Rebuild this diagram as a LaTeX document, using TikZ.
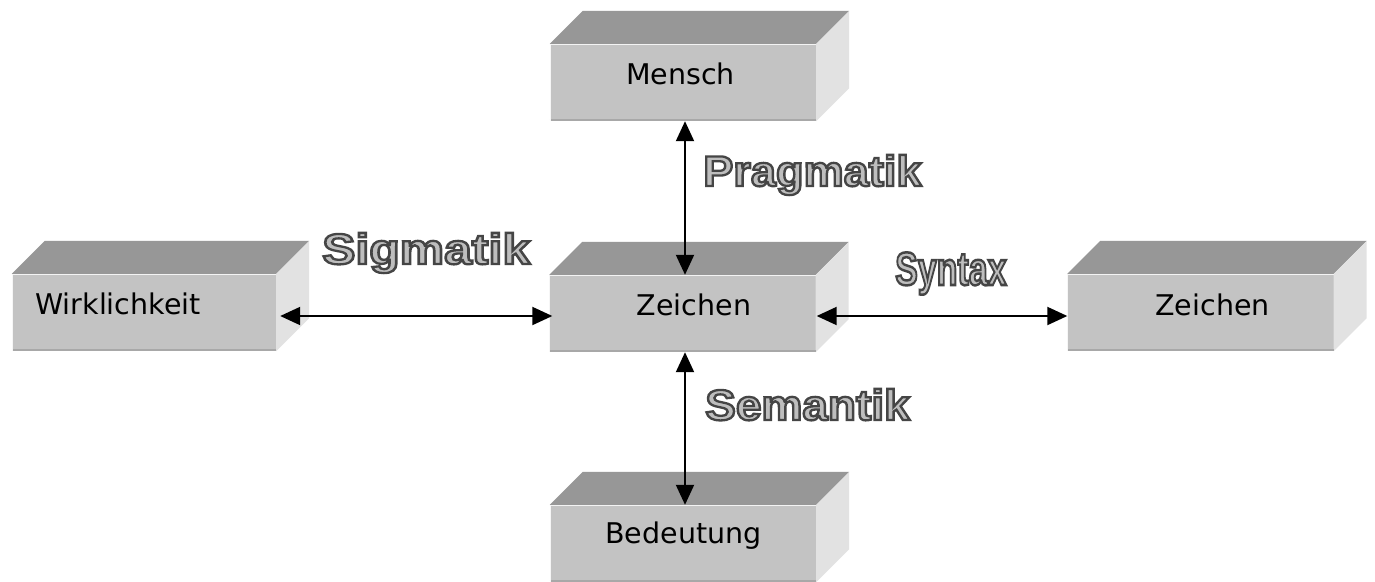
\documentclass[tikz,border=0pt]{standalone}
\usepackage{fontspec}
\setmainfont{DejaVu Sans}
\newfontfamily\lblfont{Liberation Sans}
\usetikzlibrary{arrows.meta}
\definecolor{frontc}{HTML}{C3C3C3}
\definecolor{topc}{HTML}{979797}
\definecolor{sidec}{HTML}{E2E2E2}
\definecolor{botline}{HTML}{A8A8A8}
\definecolor{lblfill}{HTML}{BEBEBE}
\newcommand{\outl}[1]{{\color{lblfill}\special{pdf:literal 2 Tr 2.3 w 0.27 0.27 0.27 RG}#1\special{pdf:literal 0 Tr}}}
\newcommand{\cubefaces}[1]{%
  \fill[topc] (#1.north west) -- ++(33,-33) -- ([shift={(33,-33)}]#1.north east) -- (#1.north east) -- cycle;
  \fill[sidec] (#1.north east) -- ++(33,-33) -- ([shift={(33,-33)}]#1.south east) -- (#1.south east) -- cycle;
  \draw[botline, line width=2pt] ([shift={(0,-1)}]#1.south west) -- ([shift={(0,-1)}]#1.south east);
  \draw[white!80!frontc, line width=1.2pt] ([shift={(0,0.6)}]#1.north west) -- ([shift={(0,0.6)}]#1.north east);
  \draw[white!85!frontc, line width=1pt] ([shift={(0.5,0.5)}]#1.north west) -- ([shift={(0.5,0)}]#1.south west);
}
\tikzset{
  face/.style={fill=frontc, minimum width=266pt, minimum height=77pt, inner sep=0pt, draw=none},
  boxtext/.style={font=\fontsize{28.5}{34}\selectfont, text=black, inner sep=0pt, anchor=base},
  lbl/.style={font=\lblfont\bfseries\fontsize{43}{50}\selectfont, inner sep=0pt, anchor=base west},
  conn/.style={{Triangle[length=20pt,width=18pt]}-{Triangle[length=20pt,width=18pt]}, line width=2pt, black}
}
\begin{document}
\begin{tikzpicture}[x=1pt,y=-1pt]
\useasboundingbox (0,0) rectangle (1375,581);
\fill[white] (0,0) rectangle (1375,581);
% boxes
\node[face] (mensch) at (683,82.5) {};
\node[face, minimum width=264pt] (wirk) at (144,312.5) {};
\node[face] (zc) at (682.5,313.5) {};
\node[face] (zr) at (1200.5,312.5) {};
\node[face] (bed) at (683,543.5) {};
\cubefaces{mensch}
\cubefaces{wirk}
\cubefaces{zc}
\cubefaces{zr}
\cubefaces{bed}
% box texts
\node[boxtext] (tmensch) at (680.5,84) {Mensch};
\node[boxtext] (twirk) at (118,314) {Wirklichkeit};
\node[boxtext] (tzc) at (694,315) {Zeichen};
\node[boxtext] (tzr) at (1212.5,315) {Zeichen};
\node[boxtext] (tbed) at (683.5,543) {Bedeutung};
% connectors
\draw[conn] ([xshift=2pt]mensch.south) -- ([xshift=2.5pt]zc.north);
\draw[conn] ([shift={(4,3.5)}]wirk.east) -- ([shift={(3,2.5)}]zc.west);
\draw[conn] ([shift={(1,2.5)}]zc.east) -- ([shift={(0,3.5)}]zr.west);
\draw[conn] ([xshift=2.5pt]zc.south) -- ([xshift=2pt]bed.north);
% outlined labels
\node[lbl] (lprag) at (703,186) {\scalebox{1.05}[1]{\outl{Pragmatik}}};
\node[lbl] (lsig) at (322,264) {\scalebox{1.16}[1]{\outl{Sigmatik}}};
\node[lbl] (lsem) at (705,420) {\scalebox{1.07}[1]{\outl{Semantik}}};
\node[lbl] (lsyn) at (895,285) {\scalebox{0.79}[1.09]{\outl{Syntax}}};
\end{tikzpicture}
\end{document}
